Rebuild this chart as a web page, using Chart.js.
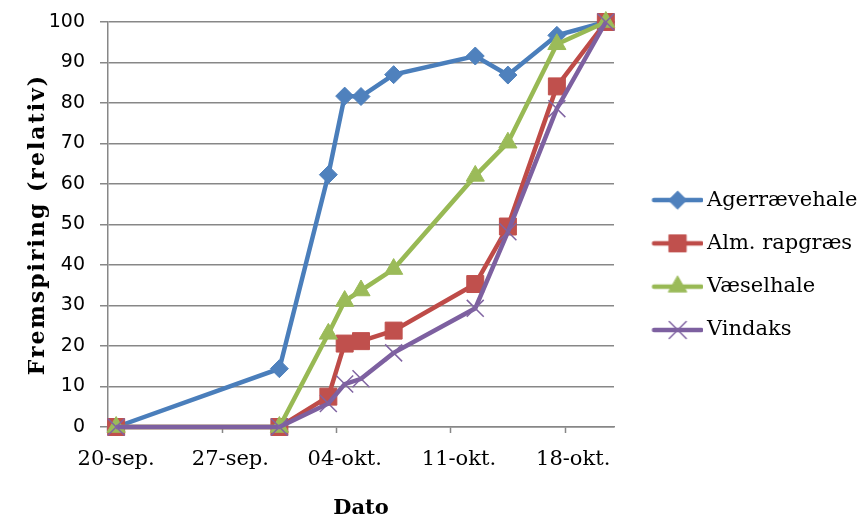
<!DOCTYPE html>
<html>
<head>
<meta charset="utf-8">
<script src="https://cdn.jsdelivr.net/npm/chart.js@4.4.0/dist/chart.umd.min.js"></script>
<style>
  html, body { margin: 0; padding: 0; background: #ffffff; }
  #wrap { position: relative; width: 862px; height: 518px; }
</style>
</head>
<body>
<div id="wrap"><canvas id="chart" width="862" height="518"></canvas></div>
<script>
// Every calendar day on the axis, 20 Sep to 20 Oct
const days = [
  '20-sep.', '21-sep.', '22-sep.', '23-sep.', '24-sep.', '25-sep.', '26-sep.',
  '27-sep.', '28-sep.', '29-sep.', '30-sep.', '01-okt.', '02-okt.', '03-okt.',
  '04-okt.', '05-okt.', '06-okt.', '07-okt.', '08-okt.', '09-okt.', '10-okt.',
  '11-okt.', '12-okt.', '13-okt.', '14-okt.', '15-okt.', '16-okt.', '17-okt.',
  '18-okt.', '19-okt.', '20-okt.'
];
// Labelled weekly ticks
const tickLabels = ['20-sep.', '27-sep.', '04-okt.', '11-okt.', '18-okt.'];

// Counting dates
const countDates = ['20-sep.', '30-sep.', '03-okt.', '04-okt.', '05-okt.', '07-okt.', '12-okt.', '14-okt.', '17-okt.', '20-okt.'];

// Relative emergence (%) per species
const agerraevehale = [0, 14.4, 62.3, 81.7, 81.6, 87.0, 91.6, 86.9, 96.7, 100];
const almRapgraes   = [0, 0, 7.5, 20.6, 21.2, 23.8, 35.3, 49.5, 84.1, 100];
const vaeselhale    = [0, 0, 23.0, 31.1, 33.7, 39.0, 62.0, 70.2, 94.5, 100];
const vindaks       = [0, 0, 5.8, 10.6, 11.9, 18.3, 29.3, 48.2, 78.6, 100];

const seriesNames = ['Agerrævehale', 'Alm. rapgræs', 'Væselhale', 'Vindaks'];
const seriesValues = [agerraevehale, almRapgraes, vaeselhale, vindaks];
const lineColors = ['#4A7EBB', '#BE4B48', '#98B954', '#7D60A0'];
const markerColors = ['#4F81BD', '#C0504D', '#9BBB59', '#8064A2'];
const markerStyles = ['rectRot', 'rect', 'triangle', 'crossRot'];
const markerRadii = [9, 12, 10.5, 12];

const GRID = '#878787';

// Legend geometry
const LEGEND_WIDTH = 248;
const LEGEND_PAD = 22.3;
const LEGEND_BOX = 60.2;
const ICON_W = 74;
const ICON_LINE_START = 22.6;

function markerOpts(i) {
  const isCross = markerStyles[i] === 'crossRot';
  return {
    pointStyle: markerStyles[i],
    radius: markerRadii[i],
    rotation: 0,
    borderWidth: isCross ? 1.5 : 1
  };
}

// Small line-plus-marker icon for each legend entry
function legendIcon(i) {
  const c = document.createElement('canvas');
  c.width = ICON_W; c.height = 26;
  const g = c.getContext('2d');
  g.strokeStyle = lineColors[i];
  g.lineWidth = 4.5;
  g.lineCap = 'round';
  g.beginPath(); g.moveTo(ICON_LINE_START + 2, 13); g.lineTo(ICON_W - 2, 13); g.stroke();
  g.fillStyle = markerColors[i];
  g.strokeStyle = markerColors[i];
  const m = markerOpts(i);
  g.lineWidth = m.borderWidth;
  Chart.helpers.drawPoint(g, m, (ICON_LINE_START + ICON_W) / 2, 13);
  return c;
}

const datasets = seriesNames.map((name, i) => ({
  label: name,
  data: countDates.map((d, k) => ({ x: d, y: seriesValues[i][k] })),
  borderColor: lineColors[i],
  borderWidth: 4.5,
  backgroundColor: markerColors[i],
  pointBackgroundColor: markerColors[i],
  pointBorderColor: markerColors[i],
  pointStyle: markerStyles[i],
  pointRadius: markerRadii[i],
  pointBorderWidth: markerOpts(i).borderWidth,
  pointHoverRadius: markerRadii[i],
  tension: 0,
  fill: false,
  clip: false,
  order: seriesNames.length - i
}));

// Wider letter spacing for the vertical axis title
function spacedTitle(scale, spacing) {
  if (scale._spacedTitle) return;
  const draw = scale.drawTitle;
  scale.drawTitle = function () {
    const c = this.ctx;
    c.save();
    c.letterSpacing = spacing;
    draw.call(this);
    c.restore();
  };
  scale._spacedTitle = true;
}

const chart = new Chart(document.getElementById('chart'), {
  type: 'line',
  data: { labels: days, datasets },
  options: {
    responsive: false,
    animation: false,
    devicePixelRatio: 1,
    layout: { padding: { left: 0, top: 12, right: 0, bottom: 0 } },
    plugins: {
      tooltip: { enabled: false },
      legend: {
        position: 'right',
        labels: {
          usePointStyle: true,
          pointStyleWidth: LEGEND_BOX,
          padding: LEGEND_PAD,
          color: '#000000',
          font: { family: 'DejaVu Serif', size: 21 },
          generateLabels: (ch) => ch.data.datasets.map((ds, i) => ({
            text: ds.label,
            pointStyle: legendIcon(i),
            fillStyle: markerColors[i],
            strokeStyle: markerColors[i],
            fontColor: '#000000',
            lineWidth: 0,
            hidden: false,
            datasetIndex: i
          }))
        }
      }
    },
    scales: {
      x: {
        type: 'category',
        offset: true,
        grid: {
          offset: true,
          drawOnChartArea: false,
          drawTicks: true,
          tickLength: 6,
          tickWidth: 1.5,
          tickColor: (ctx) => (ctx.index !== undefined && ctx.index % 7 === 0) ? GRID : 'rgba(0,0,0,0)'
        },
        border: { color: GRID, width: 1.5 },
        ticks: {
          autoSkip: false,
          maxRotation: 0,
          minRotation: 0,
          padding: 14,
          color: '#000000',
          font: { family: 'DejaVu Serif', size: 21 },
          callback: (v, i) => tickLabels.includes(days[i]) ? days[i] : ''
        },
        title: {
          display: true,
          text: 'Dato',
          color: '#000000',
          font: { family: 'DejaVu Serif', size: 21, weight: 'bold' },
          padding: { top: 0, bottom: -3 }
        },
        afterFit: (s) => { s.height = 91; }
      },
      y: {
        min: 0,
        max: 100,
        grid: { color: GRID, lineWidth: 1.5, tickLength: 8, tickColor: GRID, tickWidth: 1.5 },
        border: { color: GRID, width: 1.5 },
        ticks: {
          stepSize: 10,
          padding: 15,
          color: '#000000',
          font: { family: 'DejaVu Sans', size: 19 }
        },
        title: {
          display: true,
          text: 'Fremspiring (relativ)',
          color: '#000000',
          font: { family: 'DejaVu Serif', size: 22, weight: 'bold' },
          padding: { top: 25, bottom: 0 }
        },
        afterFit: (s) => {
          s.width = 108;
          s.paddingTop = 22;
          s.paddingBottom = 0;
          spacedTitle(s, '2px');
        }
      }
    }
  }
});

// Fixed legend column width so the plot keeps its right edge
const legendFit = chart.legend.fit;
chart.legend.fit = function () {
  legendFit.call(this);
  this.width = LEGEND_WIDTH;
};
chart.update();
</script>
</body>
</html>
